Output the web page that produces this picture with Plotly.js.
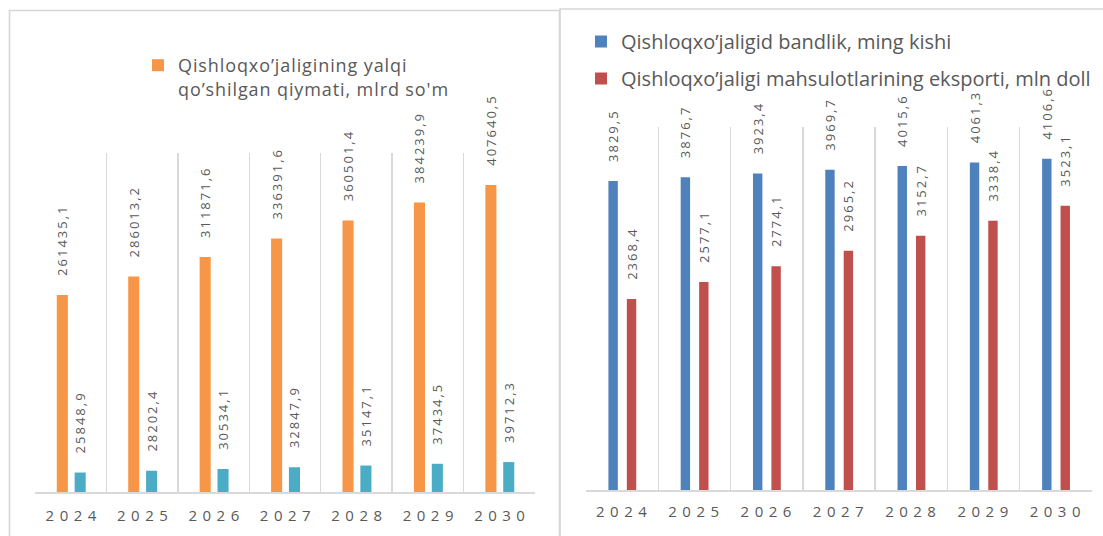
<!DOCTYPE html>
<html>
<head>
<meta charset="utf-8">
<script src="https://cdn.plot.ly/plotly-3.0.1.min.js"></script>
<style>
  html, body { margin: 0; padding: 0; background: #ffffff; }
  #chart { width: 1103px; height: 536px; }
  text.bartext { letter-spacing: 2px; }
  .xtick text, .x2tick text { letter-spacing: 5.5px; }
  text.legendtext { letter-spacing: 0.9px; }
</style>
</head>
<body>
<div id="chart"></div>
<script>
// ---- data ----
const years = ['2024', '2025', '2026', '2027', '2028', '2029', '2030'];

const valueAddedName = 'Qishloqxo’jaligining yalqi<br>qo’shilgan qiymati, mlrd so\'m';
const valueAdded = [261435.1, 286013.2, 311871.6, 336391.6, 360501.4, 384239.9, 407640.5];
const secondSeries = [25848.9, 28202.4, 30534.1, 32847.9, 35147.1, 37434.5, 39712.3];

const employmentName = 'Qishloqxo’jaligid bandlik, ming kishi';
const employment = [3829.5, 3876.7, 3923.4, 3969.7, 4015.6, 4061.3, 4106.6];

const exportsName = 'Qishloqxo’jaligi mahsulotlarining eksporti, mln doll';
const exportsVals = [2368.4, 2577.1, 2774.1, 2965.2, 3152.7, 3338.4, 3523.1];

// ---- layout helpers (pixels -> paper) ----
const W = 1103, H = 536;
const px = v => v / W;
const py = v => 1 - v / H;

const labelFont = { family: 'Open Sans, sans-serif', size: 13, color: '#595959' };
const tickFont = { family: 'Open Sans, sans-serif', size: 15, color: '#595959' };
const legendFont = { family: 'Open Sans, sans-serif', size: 18, color: '#595959' };
const legend2Font = { family: 'Open Sans, sans-serif', size: 20, color: '#595959' };
const tmpl = '\u00a0\u00a0\u00a0%{y:.1f}';

function barTrace(y, name, color, xa, ya, offset, width, legend, group, showlegend) {
  return {
    type: 'bar', x: years, y: y, name: name,
    xaxis: xa, yaxis: ya,
    marker: { color: color, line: { width: 0 } },
    offset: offset, width: width,
    texttemplate: tmpl, textposition: 'outside', textangle: -90,
    constraintext: 'none', cliponaxis: false,
    textfont: labelFont,
    legend: legend, legendgroup: group, showlegend: showlegend,
    hoverinfo: 'skip'
  };
}

const traces = [
  barTrace(valueAdded, valueAddedName, '#F79646', 'x', 'y', -0.195, 0.155, 'legend', 'a', true),
  barTrace(secondSeries, 'second', '#4BACC6', 'x', 'y', 0.055, 0.155, 'legend', 'b', false),
  barTrace(employment, employmentName, '#4F81BD', 'x2', 'y2', -0.19, 0.13, 'legend2', 'c', true),
  barTrace(exportsVals, exportsName, '#C0504D', 'x2', 'y2', 0.065, 0.13, 'legend2', 'd', true)
];

const xCommon = {
  type: 'category', range: [-0.5, 6.5], fixedrange: true,
  tickson: 'boundaries', showgrid: true, gridcolor: '#d9d9d9', gridwidth: 1.3,
  ticks: '', ticklen: 0, showline: true, linecolor: '#d9d9d9', linewidth: 1.5,
  zeroline: false, tickfont: tickFont, ticklabelstandoff: 9, ticklabelshift: 3
};

const layout = {
  width: W, height: H,
  margin: { l: 0, r: 0, t: 0, b: 0, pad: 0 },
  paper_bgcolor: '#ffffff', plot_bgcolor: 'rgba(0,0,0,0)',
  separators: ', ',
  barmode: 'group',
  xaxis: Object.assign({}, xCommon, { domain: [px(35), px(535)], anchor: 'y' }),
  yaxis: { domain: [py(492), py(153)], range: [0, 450000], visible: false, fixedrange: true, anchor: 'x' },
  xaxis2: Object.assign({}, xCommon, { domain: [px(586), px(1092)], anchor: 'y2', ticklabelshift: 2, ticklabelstandoff: 7 }),
  yaxis2: { domain: [py(490), py(127)], range: [0, 4500], visible: false, fixedrange: true, anchor: 'x2' },
  legend: {
    x: px(138), y: py(47), xanchor: 'left', yanchor: 'top',
    font: legendFont, bgcolor: 'rgba(0,0,0,0)', valign: 'top'
  },
  legend2: {
    x: px(581), y: py(22), xanchor: 'left', yanchor: 'top',
    font: legend2Font, bgcolor: 'rgba(0,0,0,0)', traceorder: 'grouped', tracegroupgap: 8
  },
  shapes: [
    { type: 'rect', xref: 'paper', yref: 'paper', x0: px(9.5), x1: px(559.5), y0: py(560), y1: py(10.5),
      line: { color: '#d6d6d6', width: 1.6 }, fillcolor: 'rgba(0,0,0,0)', layer: 'below' },
    { type: 'rect', xref: 'paper', yref: 'paper', x0: px(560), x1: px(1130), y0: py(560), y1: py(9),
      line: { color: '#d6d6d6', width: 1.6 }, fillcolor: 'rgba(0,0,0,0)', layer: 'below' }
  ],
  showlegend: true
};

Plotly.newPlot('chart', traces, layout, { displayModeBar: false, staticPlot: true });
</script>
</body>
</html>
